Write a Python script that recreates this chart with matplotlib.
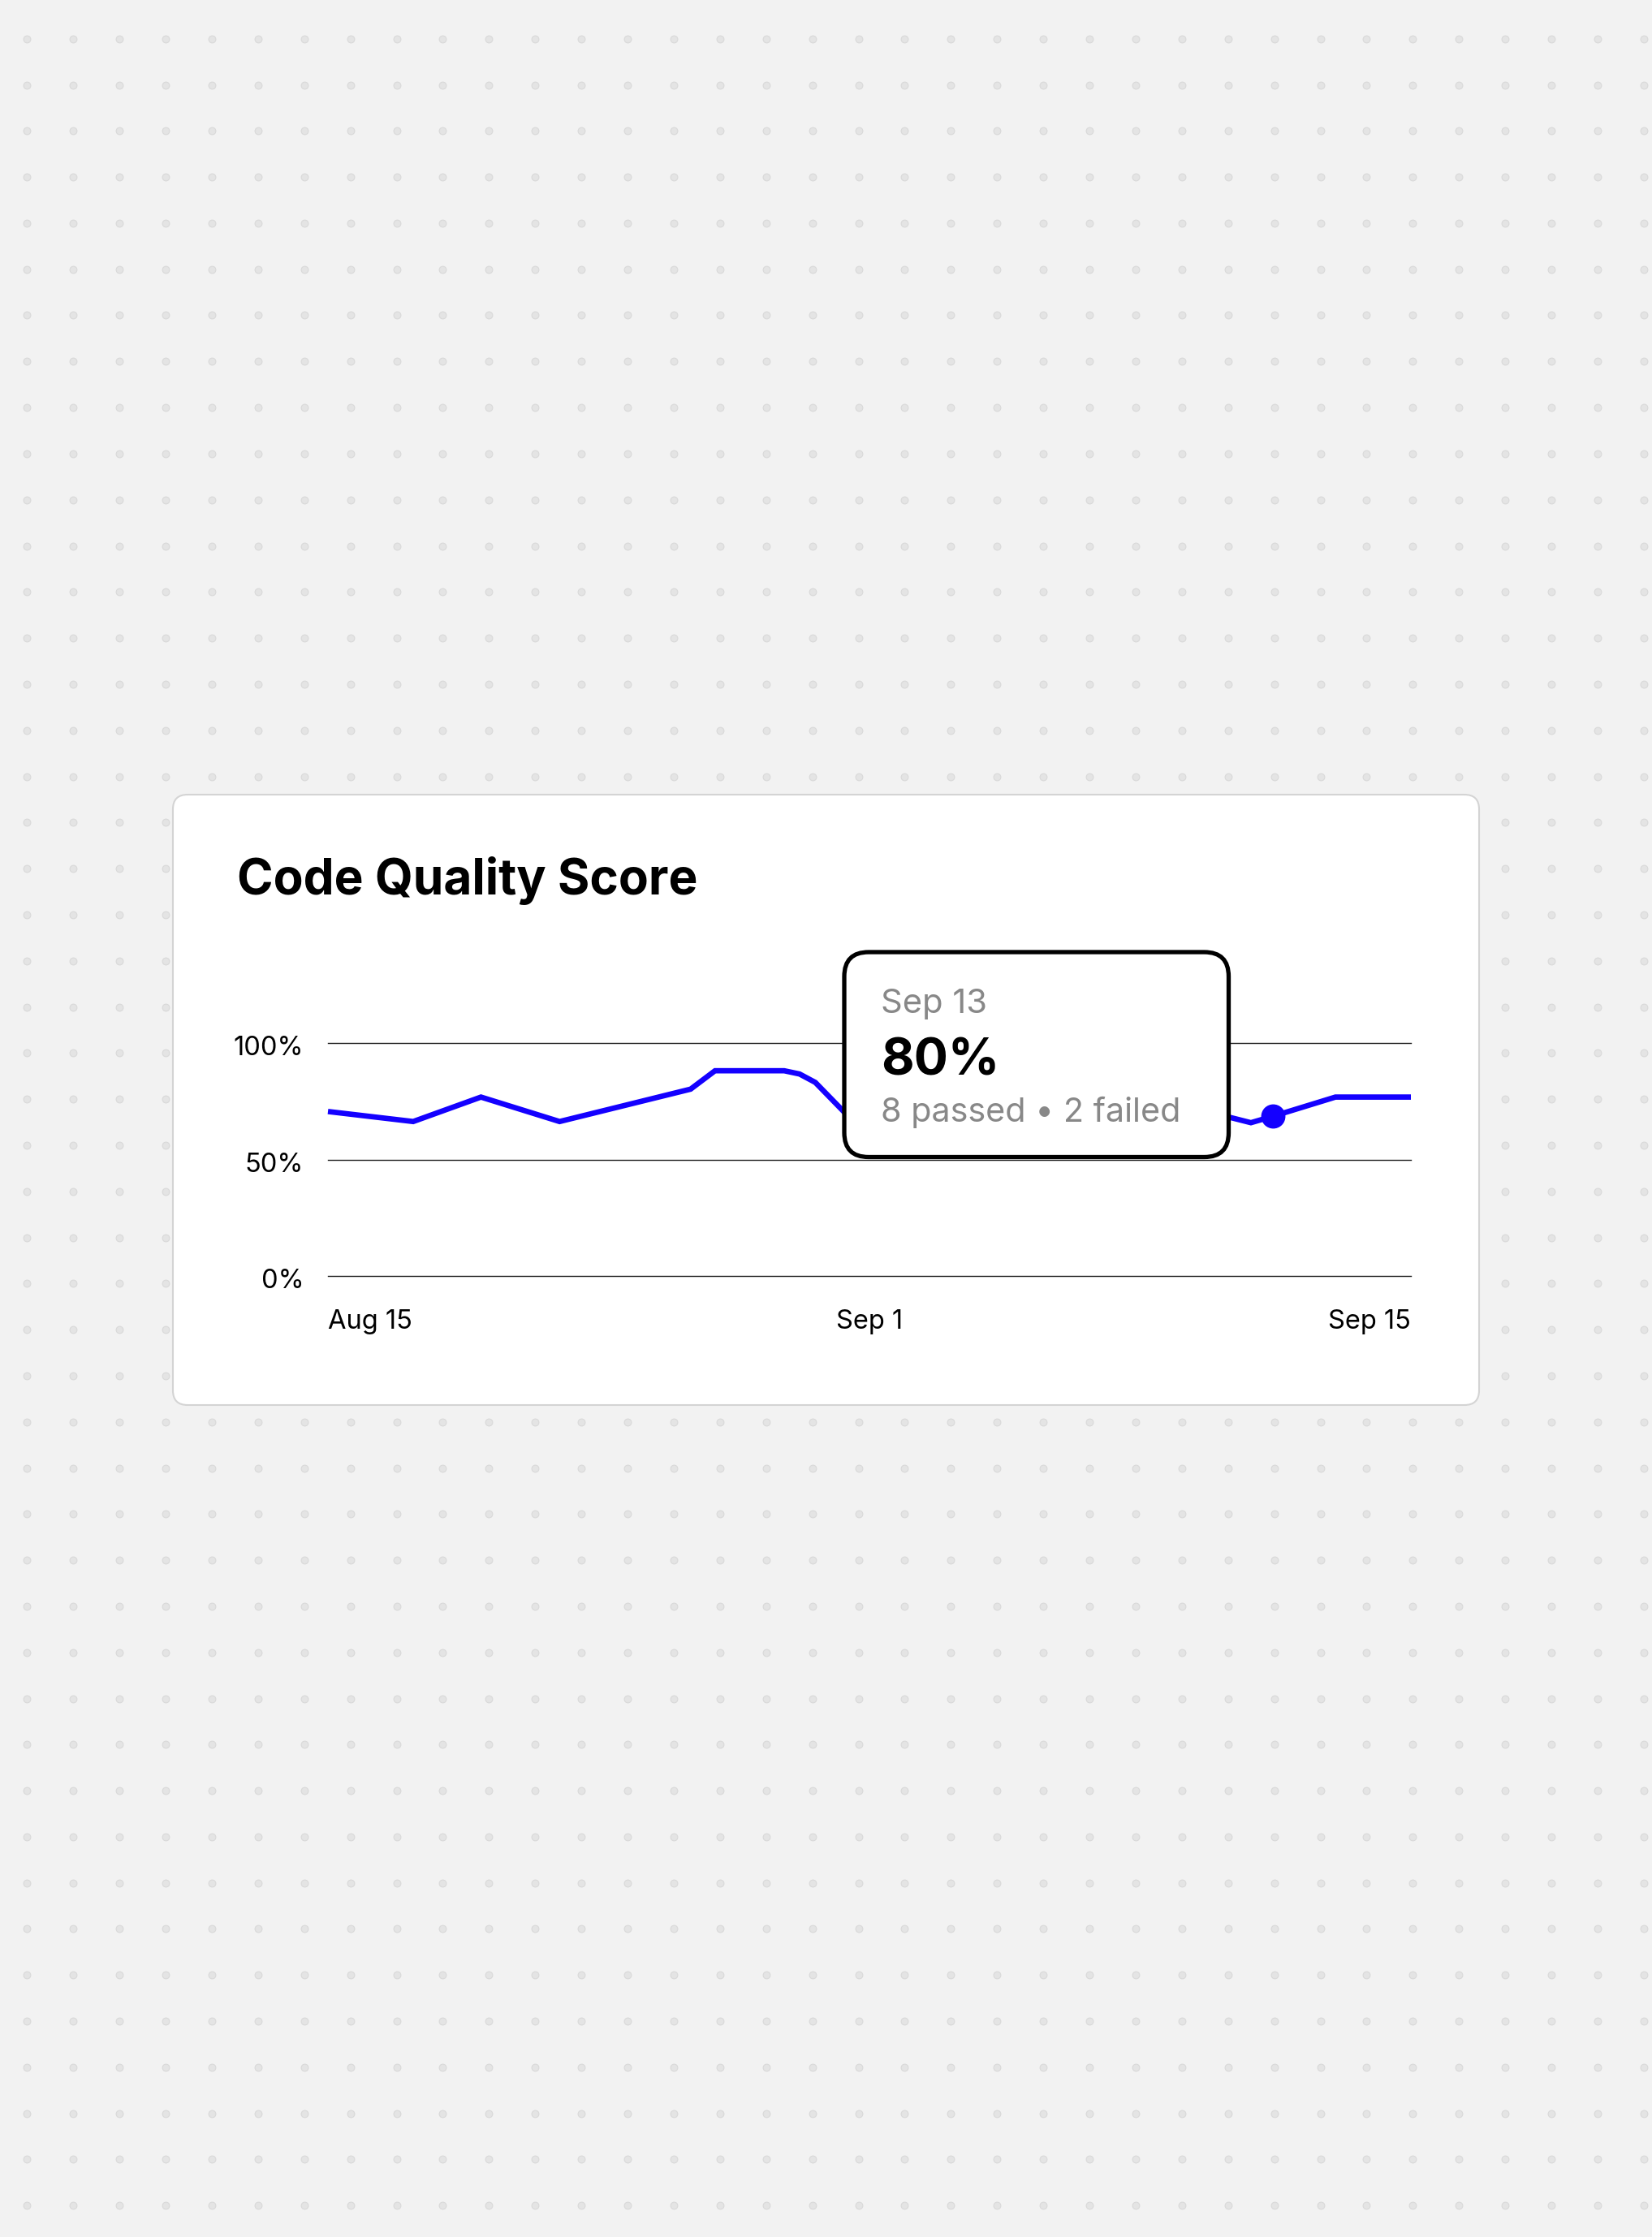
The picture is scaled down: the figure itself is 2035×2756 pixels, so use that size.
import matplotlib
matplotlib.use('Agg')
import matplotlib.pyplot as plt
from matplotlib.patches import FancyBboxPatch
from matplotlib.transforms import ScaledTranslation
import numpy as np

# ---------------- data ----------------
days = [0, 2.44, 4.38, 6.63, 10.38, 11.08, 13.06, 13.5, 13.95, 15.25, 25.0, 26.42, 27.06, 28.84, 31.0]
scores = [70.7, 66.4, 76.9, 66.4, 80.3, 88.2, 88.2, 86.8, 83.2, 63.2, 71.3, 65.9, 68.7, 76.9, 76.9]
highlight_index = 12
y_ticks = [0, 50, 100]
y_tick_labels = ['0%', '50%', '100%']
x_ticks = [0, 15.5, 31]
x_tick_labels = ['Aug 15', 'Sep 1', 'Sep 15']
title = 'Code Quality Score'
tip_date = 'Sep 13'
tip_value = '80%'
tip_detail = '8 passed \u2022 2 failed'

# ---------------- style ----------------
plt.rcParams['font.family'] = ['Inter', 'DejaVu Sans']
W, H = 2035, 2756
BG = '#f2f2f2'
LINE = '#1400ff'

fig = plt.figure(figsize=(W / 100, H / 100), dpi=100)
fig.patch.set_facecolor(BG)

# background / card layer (pixel coordinates)
ax_bg = fig.add_axes([0, 0, 1, 1], zorder=0)
ax_bg.set_xlim(0, W)
ax_bg.set_ylim(H, 0)
ax_bg.axis('off')

gx = 33.3 + 56.9 * np.arange(36)
gy = 47.7 + 56.8 * np.arange(48)
GX, GY = np.meshgrid(gx, gy)
ax_bg.scatter(GX.ravel(), GY.ravel(), s=40, facecolor='#e4e4e4', edgecolor='#d9d9d9',
              linewidth=0.8, zorder=0)

card = FancyBboxPatch((213, 979), 1822 - 213, 1731 - 979,
                      boxstyle='round,pad=0,rounding_size=18',
                      facecolor='white', edgecolor='#d4d4d4', linewidth=1.5, zorder=1)
ax_bg.add_patch(card)
ax_bg.text(292, 1101.7, title, fontsize=43.5, fontweight='bold', color='#000000',
           ha='left', va='baseline', zorder=2)

# chart layer
ax = fig.add_axes([404 / W, 1 - 1572.3 / H, 1334 / W, 287 / H], zorder=1)
ax.patch.set_alpha(0)
ax.set_xlim(0, 31)
ax.set_ylim(0, 100)
for s in ax.spines.values():
    s.set_visible(False)
ax.set_yticks(y_ticks, y_tick_labels)
ax.set_xticks(x_ticks, x_tick_labels)
ax.tick_params(axis='y', length=0, labelsize=23.5, pad=21.5, colors='#000000')
ax.tick_params(axis='x', length=0, labelsize=23.5, pad=29.5, colors='#000000')
for lbl, ha in zip(ax.get_xticklabels(), ['left', 'center', 'right']):
    lbl.set_ha(ha)
shift = ScaledTranslation(0, -3 / 100, fig.dpi_scale_trans)
for lbl in ax.get_yticklabels():
    lbl.set_transform(lbl.get_transform() + shift)
ax.grid(axis='y', color='#1e1e1e', linewidth=1.0)
ax.grid(axis='x', visible=False)
for gl in ax.get_ygridlines():
    gl.set_clip_on(False)
ax.set_axisbelow(True)
ax.plot(days, scores, color=LINE, linewidth=4.8, solid_joinstyle='miter',
        solid_capstyle='butt', clip_on=False, zorder=3)
ax.plot([days[highlight_index]], [scores[highlight_index]], 'o', markersize=20.5,
        color=LINE, clip_on=False, zorder=4)

# tooltip layer
ax_top = fig.add_axes([0, 0, 1, 1], zorder=2)
ax_top.set_xlim(0, W)
ax_top.set_ylim(H, 0)
ax_top.axis('off')
tip = FancyBboxPatch((1040, 1173), 1513.5 - 1040, 1425.5 - 1173,
                     boxstyle='round,pad=0,rounding_size=30',
                     facecolor='white', edgecolor='black', linewidth=3.8, zorder=5)
ax_top.add_patch(tip)
ax_top.text(1085, 1247.7, tip_date, fontsize=30, color='#888888', ha='left', va='baseline', zorder=6)
ax_top.text(1085, 1324.3, tip_value, fontsize=45, fontweight='bold', color='#000000',
            ha='left', va='baseline', zorder=6)
ax_top.text(1085, 1382.3, tip_detail, fontsize=29.7, color='#888888', ha='left', va='baseline', zorder=6)

fig.savefig('out.png', dpi=100, facecolor=BG)
